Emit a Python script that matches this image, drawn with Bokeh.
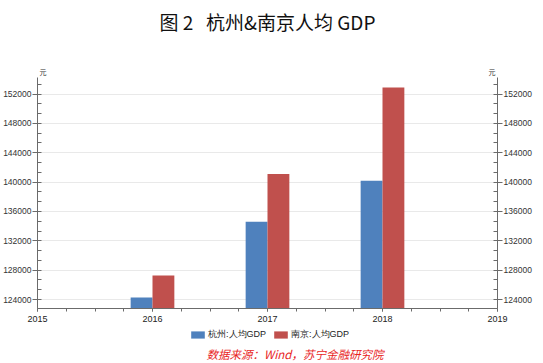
from bokeh.plotting import figure
from bokeh.layouts import column
from bokeh.models import (ColumnDataSource, FixedTicker, Range1d, LinearAxis,
                          Legend, LegendItem, Title, Label, BasicTickFormatter)
from bokeh.embed import file_html
from bokeh.resources import INLINE

# ---- data ----
years = [2016, 2017, 2018]
hangzhou = [124286, 134607, 140180]
nanjing = [127264, 141103, 152886]
x_ticks = [2015, 2016, 2017, 2018, 2019]
y_ticks = [124000, 128000, 132000, 136000, 140000, 144000, 148000, 152000]
series_names = ["杭州:人均GDP", "南京:人均GDP"]
title_text = "图\u00a02\u00a0\u00a0\u00a0杭州&南京人均\u00a0GDP"
source_text = "数据来源：Wind，苏宁金融研究院"
unit_text = "元"

BLUE = "#4F81BD"
RED = "#C0504D"
AXIS = "#6b6b6b"
FONT = "Liberation Sans"
CJK = "Noto Sans CJK SC"
bar_w = 0.19

# frame spans the whole top of the chart; axes are bounded to the value area
y_min, y_axis_top, y_frame_top = 122780, 154250, 164740

p = figure(frame_width=460, frame_height=308, output_backend="svg",
           toolbar_location=None, x_range=Range1d(2015, 2019),
           y_range=Range1d(y_min, y_frame_top), min_border_top=0,
           min_border_left=0, min_border_right=0, min_border_bottom=0)
p.outline_line_color = None
p.background_fill_color = "white"
p.border_fill_color = "white"

src = ColumnDataSource(dict(
    xb=[y - bar_w / 2 for y in years],
    xr=[y + bar_w / 2 for y in years],
    hz=hangzhou, nj=nanjing))
p.vbar(x="xb", top="hz", bottom=0, width=bar_w, source=src,
       fill_color=BLUE, line_color=None)
p.vbar(x="xr", top="nj", bottom=0, width=bar_w, source=src,
       fill_color=RED, line_color=None)

# minor ticks: 3 intervals per major step
step = y_ticks[1] - y_ticks[0]
minor_y = []
v = y_ticks[0] - step
while v <= y_axis_top:
    for k in range(3):
        m = v + k * step / 3
        if y_min <= m <= y_axis_top:
            minor_y.append(m)
    v += step
yticker = FixedTicker(ticks=y_ticks, minor_ticks=minor_y)
minor_x = [x_ticks[0] + i * 0.25 for i in range(17)]
xticker = FixedTicker(ticks=x_ticks, minor_ticks=minor_x)


def style_y(ax):
    ax.ticker = yticker
    ax.bounds = (y_min, y_axis_top)
    ax.formatter = BasicTickFormatter(use_scientific=False)
    ax.axis_line_color = AXIS
    ax.major_tick_line_color = AXIS
    ax.minor_tick_line_color = AXIS
    ax.major_tick_out = 5
    ax.major_tick_in = 0
    ax.minor_tick_out = 0
    ax.minor_tick_in = 4
    ax.major_label_standoff = 1
    ax.major_label_text_font = FONT
    ax.major_label_text_font_size = "8.5px"
    ax.major_label_text_color = "#333333"


style_y(p.yaxis[0])
ry = LinearAxis()
style_y(ry)
p.add_layout(ry, "right")

xa = p.xaxis[0]
xa.ticker = xticker
xa.formatter = BasicTickFormatter(use_scientific=False)
xa.axis_line_color = AXIS
xa.major_tick_line_color = AXIS
xa.minor_tick_line_color = AXIS
xa.major_tick_out = 3
xa.major_tick_in = 0
xa.minor_tick_out = 3
xa.minor_tick_in = 0
xa.major_label_standoff = 4
xa.major_label_text_font = FONT
xa.major_label_text_font_size = "9px"
xa.major_label_text_color = "#222222"

p.xgrid.visible = False
p.ygrid.ticker = yticker
p.ygrid.grid_line_color = "#e9e9e9"

# chart title, drawn inside the (tall) frame above the value area
p.add_layout(Label(x=(x_ticks[0] + x_ticks[-1]) / 2, y=y_frame_top,
                   y_offset=-21, text=title_text, text_align="center",
                   text_baseline="middle", text_font=CJK,
                   text_font_size="19px", text_color="#111111"))

p.add_layout(Label(x=x_ticks[0], y=y_axis_top, text=unit_text, x_offset=2,
                   y_offset=1, text_font=CJK, text_font_size="7px",
                   text_baseline="bottom", text_color="#333333"))
p.add_layout(Label(x=x_ticks[-1], y=y_axis_top, text=unit_text, x_offset=-2,
                   y_offset=1, text_align="right", text_font=CJK,
                   text_font_size="7px", text_baseline="bottom",
                   text_color="#333333"))

# ---- bottom strip: legend + source note ----
q = figure(width=528, height=37, output_backend="svg",
           toolbar_location=None, x_range=Range1d(0, 1),
           y_range=Range1d(0, 1), min_border=0, min_border_left=0,
           min_border_right=0, min_border_top=0, min_border_bottom=0,
           x_axis_type=None, y_axis_type=None)
q.outline_line_color = None
q.xgrid.visible = False
q.ygrid.visible = False
nan = float("nan")
proxy = ColumnDataSource(dict(x=[nan], top=[nan]))
lb = q.vbar(x="x", top="top", width=1, source=proxy, fill_color=BLUE,
            line_color=None)
lr = q.vbar(x="x", top="top", width=1, source=proxy, fill_color=RED,
            line_color=None)
legend = Legend(items=[LegendItem(label=series_names[0], renderers=[lb]),
                       LegendItem(label=series_names[1], renderers=[lr])],
                orientation="horizontal", location=(152, 2),
                border_line_color=None, background_fill_alpha=0,
                glyph_width=17, glyph_height=9, label_text_font=FONT,
                label_text_font_size="9px", label_text_color="#222222",
                label_standoff=2, spacing=6, padding=0, margin=0,
                label_height=10)
q.add_layout(legend)
q.add_layout(Title(text=source_text, align="right", offset=108, standoff=0,
                   text_color="#e8251e", text_font=CJK,
                   text_font_style="italic", text_font_size="11.5px"),
             "below")

layout = column(p, q, spacing=0)
open("out.html", "w").write(file_html(layout, INLINE))
